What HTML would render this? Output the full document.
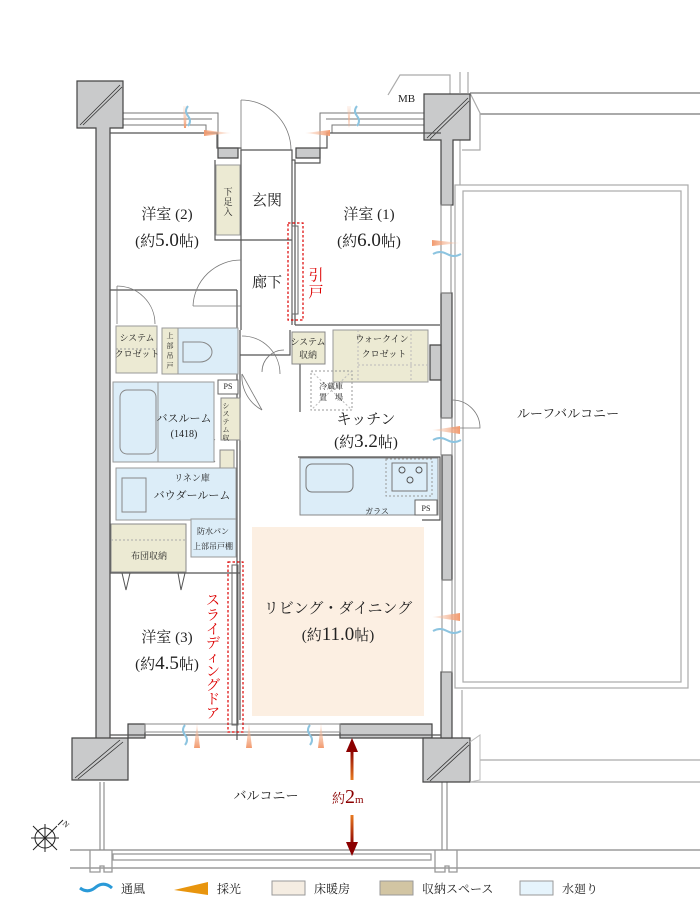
<!DOCTYPE html>
<html><head><meta charset="utf-8"><style>
html,body{margin:0;padding:0;background:#fff}
svg{display:block}
text{font-family:"Liberation Serif","Noto Serif CJK SC","Noto Sans CJK JP",serif;fill:#222}
</style></head><body>
<svg width="700" height="910" viewBox="0 0 700 910" xmlns="http://www.w3.org/2000/svg">
<defs>
<linearGradient id="og" x1="0" x2="1"><stop offset="0" stop-color="#f7c9b0" stop-opacity="0.2"/><stop offset="1" stop-color="#f29a6e"/></linearGradient>
<linearGradient id="ogv" x1="0" y1="1" x2="0" y2="0"><stop offset="0" stop-color="#f29a6e"/><stop offset="1" stop-color="#f7c9b0" stop-opacity="0.2"/></linearGradient>
<linearGradient id="ar" x1="0" y1="0" x2="0" y2="1"><stop offset="0" stop-color="#8b0000"/><stop offset="1" stop-color="#e87a20"/></linearGradient>
<linearGradient id="ar2" x1="0" y1="1" x2="0" y2="0"><stop offset="0" stop-color="#8b0000"/><stop offset="1" stop-color="#e87a20"/></linearGradient>
</defs>

<!-- roof balcony -->
<g fill="none" stroke="#aaa" stroke-width="1.2">
<line x1="470" y1="93" x2="700" y2="93" stroke="#777"/>
<line x1="480" y1="114" x2="700" y2="114" stroke="#777"/>
<rect x="455" y="185" width="233" height="503"/>
<rect x="463" y="191" width="218" height="491"/>
<line x1="480" y1="760" x2="700" y2="760"/>
<line x1="470" y1="782" x2="700" y2="782"/>
<line x1="460" y1="138" x2="460" y2="185"/>
<line x1="462" y1="690" x2="462" y2="740"/>
<path d="M388 95 L400 75 L450 75 L450 95"/>
<line x1="460" y1="72" x2="460" y2="93"/><line x1="468" y1="72" x2="468" y2="93"/>
<path d="M470 93 L480 113 L480 150 L462 150"/>
</g>

<!-- balcony -->
<g fill="none" stroke="#999" stroke-width="1.3">
<line x1="100" y1="782" x2="100" y2="850"/><line x1="104" y1="782" x2="104" y2="850"/>
<line x1="442" y1="782" x2="442" y2="850"/><line x1="447" y1="782" x2="447" y2="850"/>
<line x1="70" y1="850" x2="700" y2="850" stroke="#888"/>
<line x1="70" y1="868" x2="700" y2="868" stroke="#888"/>
<rect x="113" y="854" width="318" height="6"/>
<path d="M90 850 V872 H100 V866 H104 V872 H112 V850"/>
<path d="M435 850 V872 H445 V866 H449 V872 H457 V850"/>
</g>

<!-- top walls as double lines -->
<g fill="none" stroke="#777" stroke-width="1">
<path d="M123 113 H218 V150"/><path d="M123 119 H212"/><path d="M123 125 H206 V133"/>
<path d="M424 113 H320 V150"/><path d="M424 119 H326"/><path d="M424 125 H332 V133"/>
</g>

<!-- walls -->
<g fill="#c9cacb" stroke="#444" stroke-width="1.2">
<path d="M77 81 H123 V128 H110 V740 H96 V128 H77 Z"/>
<path d="M72 738 H128 V780 H72 Z"/>
<path d="M128 724 H145 V738 H128 Z"/>
<path d="M340 724 H432 V738 H340 Z"/>
<path d="M423 738 H470 V782 H423 Z"/>
<path d="M441 672 H452 V738 H441 Z"/>
<path d="M424 94 H470 V140 H453 V205 H441 V140 H424 Z"/>
<path d="M441 293 H452 V418 H441 Z"/>
<path d="M442 455 H452 V580 H442 Z"/>
<path d="M430 345 H441 V380 H430 Z"/>
<path d="M218 148 H238 V158 H218 Z"/>
<path d="M296 148 H320 V158 H296 Z"/>
</g>
<g stroke="#333" stroke-width="0.8">
<line x1="80" y1="125" x2="120" y2="85"/><line x1="83" y1="125" x2="122" y2="87"/>
<line x1="75" y1="778" x2="120" y2="740"/><line x1="78" y1="779" x2="123" y2="742"/>
<line x1="427" y1="780" x2="468" y2="742"/><line x1="430" y1="781" x2="469" y2="745"/>
<line x1="427" y1="138" x2="468" y2="98"/><line x1="430" y1="139" x2="469" y2="101"/>
</g>
<g fill="none" stroke="#bbb"><path d="M470 742 L480 735 V780 L470 782"/></g>

<!-- windows -->
<g fill="none" stroke="#888" stroke-width="1">
<rect x="145" y="724" width="195" height="8"/>
<line x1="145" y1="735" x2="340" y2="735"/>
<rect x="441" y="205" width="10" height="88"/><rect x="442" y="580" width="10" height="92"/>
<rect x="441" y="418" width="11" height="37"/>
</g>

<!-- interior outlines -->
<g fill="none" stroke="#555" stroke-width="1.2">
<path d="M110 133 H217 V148 H241 V150 H292 V160 H295 V163 H320 V148 H327 V133 H441"/>
<line x1="241" y1="150" x2="241" y2="330"/>
<line x1="292" y1="160" x2="292" y2="325"/>
<line x1="295" y1="163" x2="295" y2="325"/>
<path d="M215 160 V240 H292"/>
<line x1="295" y1="325" x2="440" y2="325"/>
<line x1="110" y1="290" x2="237" y2="290"/>
<line x1="237" y1="290" x2="237" y2="740"/>
<line x1="240" y1="330" x2="240" y2="720"/>
<path d="M240 355 H290 V330"/>
<line x1="300" y1="360" x2="300" y2="412"/>
<path d="M110 735 H441"/>
<path d="M298 457 H440 V520 H422"/>
<path d="M110 573 H240"/>
</g>
<!-- doors -->
<g fill="none" stroke="#777" stroke-width="0.8">
<path d="M241 100 A50 50 0 0 1 291 150"/><line x1="241" y1="100" x2="241" y2="150"/>
<path d="M193 306 A48 48 0 0 1 241 260"/><line x1="193" y1="306" x2="241" y2="306"/>
<path d="M117 286 A38 38 0 0 1 155 324"/><line x1="117" y1="286" x2="117" y2="324"/>
<path d="M242 336 A38 38 0 0 1 280 374"/>
<path d="M262 372 A22 22 0 0 1 284 350"/>
<path d="M242 374 A38 38 0 0 0 262 410"/><line x1="242" y1="374" x2="262" y2="410"/>
<path d="M172 460 A25 25 0 0 1 215 440"/><line x1="215" y1="462" x2="195" y2="433"/>
<path d="M452 400 A28 28 0 0 1 480 428 H452"/>
</g>

<!-- rooms fills -->
<rect x="216" y="165" width="24" height="70" fill="#ecead3" stroke="#999" />
<rect x="116" y="326" width="41" height="47" fill="#ecead3" stroke="#999"/>
<line x1="116" y1="349" x2="157" y2="349" stroke="#999" stroke-dasharray="2,2"/>
<rect x="162" y="328" width="76" height="46" fill="#dcedf8" stroke="#999"/>
<rect x="162" y="328" width="16" height="46" fill="#ecead3" stroke="#999"/>
<path d="M183 342 H200 A12 10 0 0 1 200 362 H183 Z" fill="none" stroke="#888"/>
<rect x="292" y="332" width="33" height="32" fill="#ecead3" stroke="#888"/>
<rect x="333" y="330" width="95" height="52" fill="#ecead3" stroke="#999"/>
<g stroke="#bbb" stroke-dasharray="2,2"><line x1="358" y1="330" x2="358" y2="382"/><line x1="358" y1="365" x2="428" y2="365"/><line x1="411" y1="330" x2="411" y2="382"/></g>
<rect x="218" y="380" width="20" height="14" fill="#fff" stroke="#666"/>
<rect x="113" y="382" width="101" height="80" fill="#dcedf8" stroke="#999"/>
<rect x="120" y="390" width="36" height="64" rx="7" fill="none" stroke="#888"/>
<line x1="158" y1="382" x2="158" y2="462" stroke="#999"/>
<rect x="221" y="398" width="19" height="42" fill="#ecead3" stroke="#888"/>
<rect x="220" y="450" width="14" height="20" fill="#ecead3" stroke="#888"/>
<rect x="116" y="468" width="120" height="52" fill="#dcedf8" stroke="#999"/>
<rect x="122" y="478" width="24" height="34" fill="none" stroke="#888"/>
<rect x="111" y="524" width="75" height="48" fill="#ecead3" stroke="#888"/>
<line x1="111" y1="540" x2="186" y2="540" stroke="#aaa" stroke-dasharray="2,2"/>
<path d="M122 573 L126 590 L130 573 M178 573 L181 590 L185 573" fill="none" stroke="#555"/>
<rect x="191" y="519" width="45" height="38" fill="#dcedf8" stroke="#999"/>
<rect x="311" y="371" width="41" height="39" fill="none" stroke="#999" stroke-dasharray="2,2"/>
<path d="M311 371 L352 410 M352 371 L311 410" stroke="#bbb" stroke-dasharray="2,2"/>
<rect x="300" y="458" width="138" height="57" fill="#dcedf8" stroke="#888"/>
<rect x="306" y="464" width="47" height="28" rx="6" fill="none" stroke="#777"/>
<rect x="386" y="459" width="46" height="37" fill="none" stroke="#999" stroke-dasharray="2,2"/>
<rect x="392" y="463" width="35" height="28" fill="none" stroke="#777"/>
<g fill="none" stroke="#555"><circle cx="402" cy="470" r="3"/><circle cx="419" cy="470" r="3"/><circle cx="410" cy="480" r="3"/></g>
<rect x="415" y="500" width="22" height="15" fill="#fff" stroke="#666"/>
<rect x="252" y="527" width="172" height="189" fill="#fcefe2"/>

<!-- sliding doors (red dashed) -->
<rect x="288" y="223" width="15" height="97" fill="none" stroke="#d00" stroke-width="1.2" stroke-dasharray="2.5,2"/>
<rect x="292" y="226" width="6" height="88" fill="none" stroke="#666"/>
<rect x="228" y="562" width="15" height="170" fill="none" stroke="#d00" stroke-width="1.2" stroke-dasharray="2.5,2"/>
<rect x="232" y="565" width="6" height="160" fill="none" stroke="#666"/>

<!-- light & wind markers -->
<g>
<polygon points="183,106 187,106 186,128 184,128" fill="url(#ogv)"/>
<polygon points="205,133 232,130 232,136" fill="url(#og)" transform="rotate(180 218 133)"/>
<polygon points="347,106 351,106 349,128" fill="url(#ogv)"/>
<polygon points="305,133 330,130 330,136" fill="url(#og)"/>
<polygon points="432,243 460,240 460,246" fill="url(#og)" transform="rotate(180 446 243)"/>
<polygon points="432,430 460,426 460,434" fill="url(#og)"/>
<polygon points="432,617 460,613 460,621" fill="url(#og)"/>
<polygon points="194,748 197,722 200,748" fill="url(#ogv)"/>
<polygon points="246,748 249,722 252,748" fill="url(#ogv)"/>
<polygon points="318,748 321,722 324,748" fill="url(#ogv)"/>
</g>
<g fill="none" stroke="#8cc4e0" stroke-width="2">
<path d="M188 106 q-4 5 0 10 q4 5 0 10"/><path d="M357 106 q-4 5 0 10 q4 5 0 10"/>
<path d="M433 254 q7 -4 14 0 q7 4 14 0"/><path d="M433 440 q7 -4 14 0 q7 4 14 0"/>
<path d="M433 631 q7 -4 14 0 q7 4 14 0"/>
<path d="M185 725 q-4 5 0 10 q4 5 0 10"/><path d="M310 725 q-4 5 0 10 q4 5 0 10"/>
</g>

<!-- 2m arrow -->
<polygon points="352,738 346,752 358,752" fill="#8b0000"/>
<rect x="350.5" y="750" width="3" height="30" fill="url(#ar)"/>
<rect x="350.5" y="815" width="3" height="30" fill="url(#ar2)"/>
<polygon points="352,856 346,842 358,842" fill="#8b0000"/>

<!-- compass -->
<g stroke="#222" stroke-width="1" fill="none">
<circle cx="45" cy="838" r="10"/>
<path d="M33 850 L57 826 M33 826 L57 850 M45 824 V852 M31 838 H59"/>
<path d="M58 825 l5 -5"/>
</g>
<text x="62" y="824" font-size="8" transform="rotate(45 62 824)">N</text>

<!-- labels -->
<g font-size="15" text-anchor="middle">
<text x="167" y="219">洋室 (2)</text>
<text x="167" y="246">(約<tspan font-size="19">5.0</tspan>帖)</text>
<text x="267" y="205">玄関</text>
<text x="267" y="287">廊下</text>
<text x="369" y="219">洋室 (1)</text>
<text x="369" y="246">(約<tspan font-size="19">6.0</tspan>帖)</text>
<text x="366" y="424">キッチン</text>
<text x="366" y="447">(約<tspan font-size="19">3.2</tspan>帖)</text>
<text x="338" y="613">リビング・ダイニング</text>
<text x="338" y="640">(約<tspan font-size="19">11.0</tspan>帖)</text>
<text x="167" y="642">洋室 (3)</text>
<text x="167" y="669">(約<tspan font-size="19">4.5</tspan>帖)</text>
<text x="568" y="418" font-size="13">ルーフバルコニー</text>
<text x="266" y="800" font-size="13">バルコニー</text>
</g>
<text x="332" y="803" font-size="13" style="fill:#8b0000">約<tspan font-size="20">2</tspan><tspan font-size="11">m</tspan></text>
<g font-size="9" text-anchor="middle">
<text x="137" y="341">システム</text><text x="137" y="357">クロゼット</text>
<text x="308" y="345">システム</text><text x="308" y="358">収納</text>
<text x="382" y="342">ウォークイン</text><text x="384" y="357">クロゼット</text>
<text x="228" y="389" font-size="8">PS</text>
<text x="426" y="511" font-size="8">PS</text>
<text x="184" y="422" font-size="11">バスルーム</text>
<text x="184" y="437" font-size="10">(1418)</text>
<text x="192" y="481">リネン庫</text>
<text x="192" y="499" font-size="11">バウダールーム</text>
<text x="149" y="559">布団収納</text>
<text x="213" y="534" font-size="8">防水パン</text>
<text x="213" y="549" font-size="8">上部吊戸棚</text>
<text x="331" y="389" font-size="8">冷蔵庫</text>
<text x="331" y="400" font-size="8">置　場</text>
<text x="377" y="514" font-size="8">ガラス</text>
</g>
<g font-size="9" text-anchor="middle">
<text x="228" y="195">下</text><text x="228" y="205">足</text><text x="228" y="215">入</text>
<text x="170" y="338" font-size="7">上</text><text x="170" y="348" font-size="7">部</text><text x="170" y="358" font-size="7">吊</text><text x="170" y="368" font-size="7">戸</text>
<text x="226" y="408" font-size="7">シ</text><text x="226" y="416" font-size="7">ス</text><text x="226" y="424" font-size="7">テ</text><text x="226" y="432" font-size="7">ム</text><text x="226" y="440" font-size="7">収</text>
</g>
<g font-size="15" text-anchor="middle">
<text x="316" y="280" style="fill:#d00">引</text>
<text x="316" y="297" style="fill:#d00">戸</text>
</g>
<g font-size="14" text-anchor="middle">
<text x="213" y="605" style="fill:#d00">ス</text>
<text x="213" y="620" style="fill:#d00">ラ</text>
<text x="213" y="634" style="fill:#d00">イ</text>
<text x="213" y="648" style="fill:#d00">デ</text>
<text x="213" y="662" style="fill:#d00">ィ</text>
<text x="213" y="676" style="fill:#d00">ン</text>
<text x="213" y="690" style="fill:#d00">グ</text>
<text x="213" y="704" style="fill:#d00">ド</text>
<text x="213" y="718" style="fill:#d00">ア</text>
</g>
<text x="398" y="102" font-size="11">MB</text>

<!-- legend -->
<path d="M80 888 q8 6 16 -1 q8 -6 16 1" fill="none" stroke="#2a9ad8" stroke-width="3"/>
<text x="121" y="893" font-size="12">通風</text>
<polygon points="174,890 208,882 208,895" fill="#e8950e"/>
<text x="217" y="893" font-size="12">採光</text>
<rect x="272" y="881" width="33" height="14" fill="#f5ede2" stroke="#999"/>
<text x="314" y="893" font-size="12">床暖房</text>
<rect x="380" y="881" width="33" height="14" fill="#d2c5a3" stroke="#999"/>
<text x="422" y="893" font-size="12">収納スペース</text>
<rect x="520" y="881" width="33" height="14" fill="#e6f4fc" stroke="#999"/>
<text x="562" y="893" font-size="12">水廻り</text>
</svg>
</body></html>
